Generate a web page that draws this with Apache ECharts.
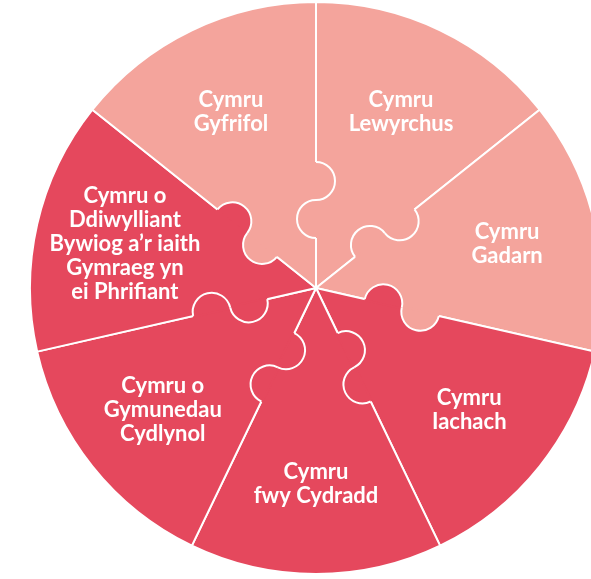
<!DOCTYPE html>
<html>
<head>
<meta charset="utf-8">
<script src="https://cdn.jsdelivr.net/npm/echarts@6/dist/echarts.min.js"></script>
<style>
  html, body { margin: 0; padding: 0; background: #fff; }
  #pie { width: 591px; height: 579px; }
</style>
</head>
<body>
<div id="pie"></div>
<script>
// seven well-being goals, clockwise from the top
const goalNames = [
  'Cymru\nLewyrchus',
  'Cymru\nGadarn',
  'Cymru\nIachach',
  'Cymru\nfwy Cydradd',
  'Cymru o\nGymunedau\nCydlynol',
  'Cymru o\nDdiwylliant\nBywiog a\u2019r iaith\nGymraeg yn\nei Phrifiant',
  'Cymru\nGyfrifol'
]
const goalShares = [1, 1, 1, 1, 1, 1, 1]
const goalColors = ['#F4A49C', '#F4A49C', '#E5485D', '#E5485D', '#E5485D', '#E5485D', '#F4A49C']

const center = [316, 288]
const radius = 286
const startAngle = 90

const sliceData = goalNames.map((n, i) => ({
  name: n,
  value: goalShares[i],
  itemStyle: { color: goalColors[i] }
}))

// jigsaw tabs on every slice edge: an S shaped wiggle made of two half circles
function puzzleTabs() {
  let total = goalShares.reduce((a, b) => a + b, 0)
  let els = []
  let acc = 0
  const knobR = 19
  const firstAlong = 69
  for (let i = 0; i < goalShares.length; i++) {
    let theta = (startAngle - acc / total * 360) * Math.PI / 180
    acc += goalShares[i]
    let u = [Math.cos(theta), -Math.sin(theta)]     // outwards along the edge
    let n = [-Math.sin(theta), -Math.cos(theta)]    // towards the ccw neighbour
    let cwColor = goalColors[i]
    let ccwColor = goalColors[(i - 1 + goalShares.length) % goalShares.length]
    let bumps = [
      { along: firstAlong, side: 1, color: cwColor },
      { along: firstAlong + 2 * knobR, side: -1, color: ccwColor }
    ]
    bumps.forEach(b => {
      let cx = center[0] + u[0] * b.along
      let cy = center[1] + u[1] * b.along
      let dir = Math.atan2(n[1] * b.side, n[0] * b.side)
      // hide the straight white edge under the tab
      els.push({
        type: 'line', silent: true, z: 10,
        shape: {
          x1: cx - u[0] * knobR, y1: cy - u[1] * knobR,
          x2: cx + u[0] * knobR, y2: cy + u[1] * knobR
        },
        style: { stroke: b.color, lineWidth: 4 }
      })
      els.push({
        type: 'sector', silent: true, z: 11,
        shape: { cx: cx, cy: cy, r: knobR, startAngle: dir - Math.PI / 2, endAngle: dir + Math.PI / 2 },
        style: { fill: b.color }
      })
      els.push({
        type: 'arc', silent: true, z: 12,
        shape: { cx: cx, cy: cy, r: knobR, startAngle: dir - Math.PI / 2, endAngle: dir + Math.PI / 2 },
        style: { stroke: '#fff', lineWidth: 2, fill: null }
      })
    })
  }
  return els
}

const pieOption = {
  animation: false,
  series: [
    {
      type: 'pie',
      center: center,
      radius: [0, radius],
      startAngle: startAngle,
      clockwise: true,
      silent: true,
      label: { show: false },
      labelLine: { show: false },
      itemStyle: { borderColor: '#fff', borderWidth: 2 },
      data: sliceData
    },
    {
      // transparent ring only used to place the labels further out
      type: 'pie',
      center: center,
      radius: [100, radius],
      startAngle: startAngle,
      clockwise: true,
      silent: true,
      itemStyle: { color: 'transparent', borderWidth: 0 },
      labelLine: { show: false },
      label: {
        show: true,
        position: 'inside',
        color: '#fff',
        fontFamily: 'Lato',
        fontWeight: 'bold',
        fontSize: 22,
        lineHeight: 24,
        align: 'center'
      },
      data: goalNames.map((n, i) => ({ name: n, value: goalShares[i] }))
    }
  ],
  graphic: puzzleTabs()
}

let pieChart = echarts.init(document.getElementById('pie'))
pieChart.setOption(pieOption)
</script>
</body>
</html>
